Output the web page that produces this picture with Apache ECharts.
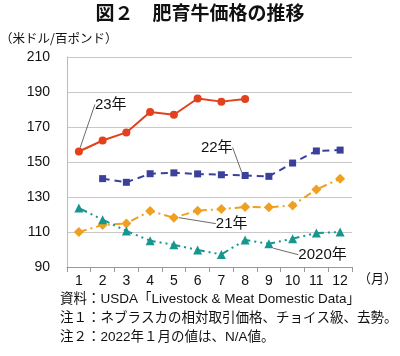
<!DOCTYPE html>
<html><head><meta charset="utf-8">
<script src="https://cdn.jsdelivr.net/npm/echarts@6/dist/echarts.min.js"></script>
<style>html,body{margin:0;padding:0;background:#fff}#c{width:400px;height:356px}</style>
</head><body><div id="c"></div>
<script>
const months = ['1','2','3','4','5','6','7','8','9','10','11','12'];
const y2023 = [156, 162.3, 166.9, 178.6, 177, 186.3, 184.5, 186, null, null, null, null];
const y2022 = [null, 140.5, 138.4, 143.3, 143.8, 143.2, 142.7, 142.3, 141.8, 149.4, 156.3, 156.8];
const y2021 = [110, 114, 114.9, 122, 118.2, 122.2, 123.1, 124.3, 124.1, 125.2, 134.3, 140.5];
const y2020 = [123.7, 117, 110.6, 105, 102.7, 99.7, 97.2, 105.4, 103.3, 106.2, 109.4, 110];
const yTicks = [90, 110, 130, 150, 170, 190, 210];
const seriesNames = ['23年', '22年', '21年', '2020年'];
const labelIdx = [0, 7, 4, 8];

const FONT = '"Liberation Sans", "Noto Sans CJK JP", sans-serif';
const JP = '"Noto Sans CJK JP", "Liberation Sans", sans-serif';

function withLabel(arr, idx, name, pos) {
  return arr.map((v, i) => i === idx ? {value: v, label: {show: true, formatter: name, position: pos}} : v);
}
const labelText = {color: '#111', fontSize: 15, fontFamily: FONT};
const guide = {show: true, lineStyle: {color: '#444', width: 0.8}};
const noteFont = '13.5px "Liberation Sans", "Noto Sans CJK JP"';

const chart = echarts.init(document.getElementById('c'), null, {renderer: 'canvas'});
chart.setOption({
  animation: false,
  backgroundColor: '#fff',
  grid: {left: 67, right: 33, top: 57, bottom: 89, containLabel: false},
  xAxis: {
    type: 'category', data: months, boundaryGap: true,
    axisLine: {lineStyle: {color: '#999', width: 1}},
    axisTick: {show: true, length: 5, lineStyle: {color: '#999'}},
    axisLabel: {color: '#111', fontSize: 14, fontFamily: FONT, margin: 7},
    name: '（月）', nameLocation: 'end', nameGap: 6,
    nameTextStyle: {color: '#111', fontSize: 13, fontFamily: JP, padding: [5, 0, 0, 0], verticalAlign: 'top'}
  },
  yAxis: {
    type: 'value', min: yTicks[0], max: yTicks[yTicks.length - 1], interval: 20,
    axisLine: {show: true, lineStyle: {color: '#bbb', width: 1}},
    axisTick: {show: false},
    axisLabel: {color: '#111', fontSize: 14, fontFamily: FONT, margin: 17},
    splitLine: {lineStyle: {color: '#c8c8c8', width: 1}}
  },
  graphic: [
    {type: 'text', left: 'center', top: 3, style: {text: '図２　肥育牛価格の推移', font: 'bold 19px "Noto Sans CJK JP"', fill: '#111'}},
    {type: 'text', left: 0, top: 32, style: {text: '（米ドル/百ポンド）', font: '12.5px "Noto Sans CJK JP"', fill: '#111'}},
    {type: 'text', left: 60, top: 293, style: {text: '資料：USDA「Livestock & Meat Domestic Data」', font: noteFont, fill: '#111'}},
    {type: 'text', left: 60, top: 312, style: {text: '注１：ネブラスカの相対取引価格、チョイス級、去勢。', font: noteFont, fill: '#111'}},
    {type: 'text', left: 60, top: 331, style: {text: '注２：2022年１月の値は、N/A値。', font: noteFont, fill: '#111'}}
  ],
  series: [
    {
      name: seriesNames[0], type: 'line', data: withLabel(y2023, labelIdx[0], seriesNames[0], 'right'),
      symbol: 'circle', symbolSize: 8, connectNulls: false,
      itemStyle: {color: '#e2411e'}, lineStyle: {color: '#e2411e', width: 2},
      label: labelText, labelLine: guide,
      labelLayout: {dx: 7, dy: -47}
    },
    {
      name: seriesNames[1], type: 'line', data: withLabel(y2022, labelIdx[1], seriesNames[1], 'left'),
      symbol: 'rect', symbolSize: 7,
      itemStyle: {color: '#3b409a'}, lineStyle: {color: '#3b409a', width: 2, type: [7, 5]},
      label: labelText, labelLine: guide,
      labelLayout: {dx: -4, dy: -28}
    },
    {
      name: seriesNames[2], type: 'line', data: withLabel(y2021, labelIdx[2], seriesNames[2], 'right'),
      symbol: 'diamond', symbolSize: 10,
      itemStyle: {color: '#f0a020'}, lineStyle: {color: '#f0a020', width: 2, type: [8, 4, 2, 4]},
      label: labelText, labelLine: guide,
      labelLayout: {dx: 32, dy: 6}
    },
    {
      name: seriesNames[3], type: 'line', data: withLabel(y2020, labelIdx[3], seriesNames[3], 'right'),
      symbol: 'triangle', symbolSize: 9,
      itemStyle: {color: '#17968f'}, lineStyle: {color: '#17968f', width: 2, type: [9, 4, 2, 4, 2, 4]},
      label: labelText, labelLine: guide,
      labelLayout: {dx: 20, dy: 11}
    }
  ]
});
</script></body></html>
